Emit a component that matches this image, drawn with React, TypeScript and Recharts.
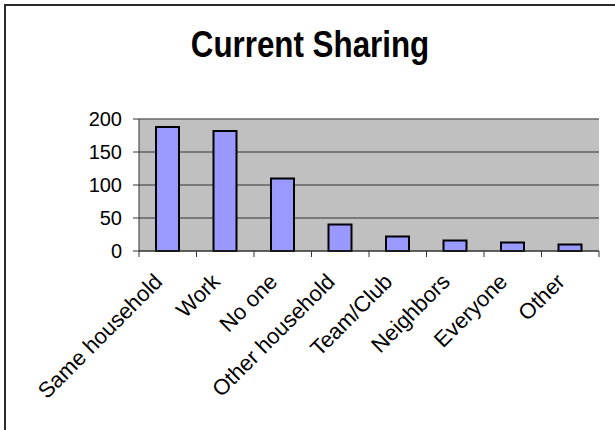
import { BarChart, Bar, XAxis, YAxis, CartesianGrid, ReferenceLine } from "recharts"

const categories = [
  "Same household",
  "Work",
  "No one",
  "Other household",
  "Team/Club",
  "Neighbors",
  "Everyone",
  "Other",
]
const sharing = [188, 182, 110, 40, 22, 16, 13, 10]
const yTicks = [0, 50, 100, 150, 200]

const chartData = categories.map((name, i) => ({ name, value: sharing[i] }))

const font = "'Liberation Sans', Arial, sans-serif"

// Excel puts the tick marks between categories, labels slanted at 45deg
function CategoryTick(props: any) {
  const { x, y, payload, index, visibleTicksCount, width } = props
  const band = width / visibleTicksCount
  const tx = x - 4
  const ty = y + 32
  return (
    <g>
      <line x1={x - band / 2} x2={x - band / 2} y1={y} y2={y + 6} stroke="#333" />
      {index === visibleTicksCount - 1 && (
        <line x1={x + band / 2} x2={x + band / 2} y1={y} y2={y + 6} stroke="#333" />
      )}
      <text
        x={tx}
        y={ty}
        transform={`rotate(-45 ${tx} ${ty})`}
        textAnchor="end"
        fontSize={22}
        fontFamily={font}
        fill="#000"
      >
        {payload.value}
      </text>
    </g>
  )
}

export default function App() {
  return (
    <div
      style={{
        position: "absolute",
        left: 0,
        top: 0,
        width: 615,
        height: 430,
        overflow: "hidden",
        background: "#fff",
      }}
    >
      <div
        style={{
          position: "absolute",
          left: 4,
          top: 4,
          width: 700,
          height: 500,
          borderTop: "2px solid #2b2b2b",
          borderLeft: "2px solid #2b2b2b",
        }}
      />
      <div
        style={{
          position: "absolute",
          left: 0,
          width: 620,
          top: 27,
          textAlign: "center",
          fontFamily: font,
          fontWeight: "bold",
          fontSize: 36,
          lineHeight: "36px",
          transform: "scaleX(0.87)",
          transformOrigin: "310px 0",
        }}
      >
        Current Sharing
      </div>
      <div style={{ position: "absolute", left: 0, top: 0 }}>
        <BarChart
          width={615}
          height={430}
          data={chartData}
          margin={{ top: 119, right: 16, bottom: 0, left: 0 }}
        >
          <CartesianGrid vertical={false} fill="#C0C0C0" stroke="#333" />
          <XAxis
            dataKey="name"
            interval={0}
            height={179}
            tickSize={0}
            tickMargin={0}
            tickLine={false}
            axisLine={{ stroke: "#333" }}
            tick={<CategoryTick />}
          />
          <YAxis
            domain={[0, 200]}
            ticks={yTicks}
            width={139}
            tickSize={6}
            tickMargin={11}
            axisLine={{ stroke: "#333" }}
            tickLine={{ stroke: "#333" }}
            tick={{ fontSize: 20, fill: "#000", fontFamily: font }}
          />
          <YAxis
            yAxisId="right"
            orientation="right"
            width={0}
            tick={false}
            tickLine={false}
            axisLine={{ stroke: "#808080" }}
          />
          <ReferenceLine y={200} stroke="#808080" />
          <Bar
            dataKey="value"
            fill="#9999FF"
            stroke="#000"
            strokeWidth={2}
            barSize={23}
            isAnimationActive={false}
          />
        </BarChart>
      </div>
    </div>
  )
}
